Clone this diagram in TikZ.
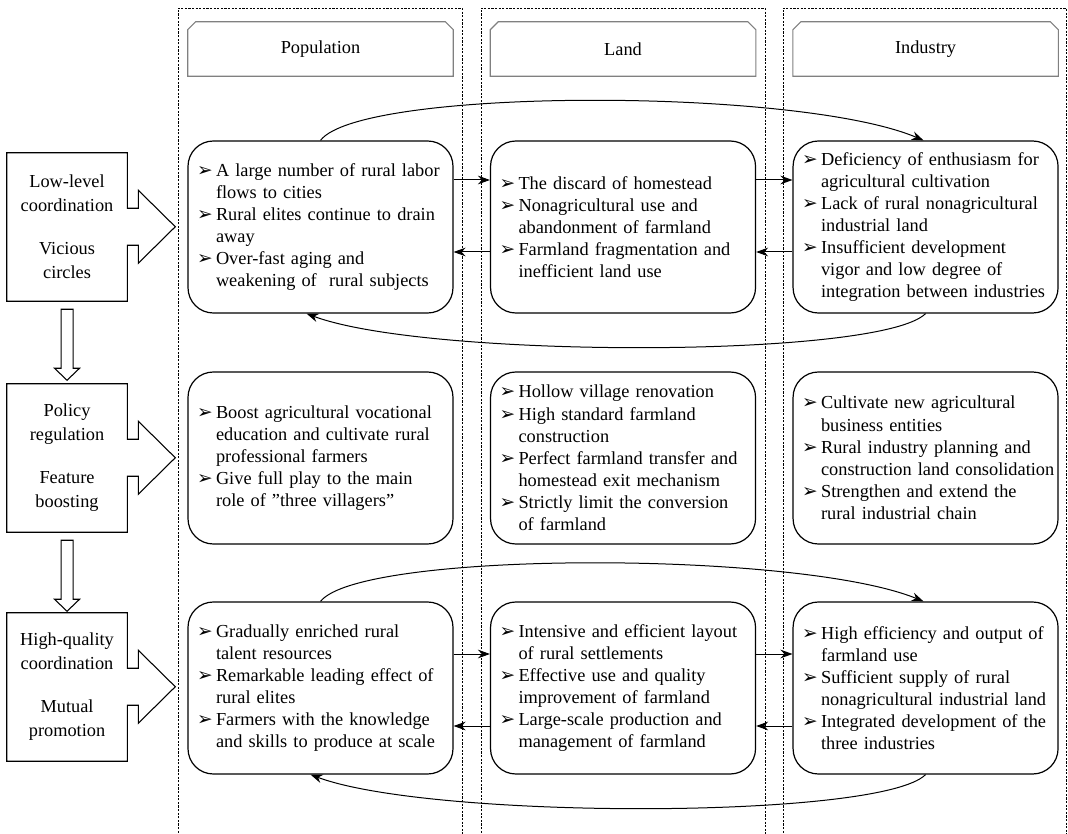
\documentclass[tikz,border=0pt]{standalone}
\usepackage{fontspec}
\setmainfont{Liberation Serif}
\newfontfamily\dejavu{DejaVu Sans}
\usepackage{xcolor}
\usepackage{tikz}
\usetikzlibrary{positioning,arrows.meta}
\definecolor{headgray}{HTML}{808080}
\newcommand{\bl}{\hspace*{6.75pt}\makebox[14.25pt][l]{\dejavu\fontsize{14}{14}\selectfont ➢}}
\newcommand{\ind}{\hspace*{21pt}}

\begin{document}
\begin{tikzpicture}[
        x=0.75pt, y=-0.75pt,
        node distance=226.9pt,
        every node/.style={
            font=\fontsize{13.75}{16.6}\selectfont
        },
        cell/.style={
            rectangle,
            draw,
            line width=0.9pt,
            rounded corners=19pt,
            minimum width=198.75pt,
            minimum height=129pt,
            text width=198.75pt,
            inner xsep=0pt,
            align=left
        },
        head/.style={
            minimum width=198.75pt,
            minimum height=40.5pt
        },
        stage/.style={
            minimum width=90pt,
            minimum height=111pt,
            align=center,
            font=\fontsize{13.75}{18}\selectfont
        },
        headline/.style={draw=headgray, line width=0.8pt},
        colframe/.style={line width=0.6pt, dash pattern=on 1.6pt off 1.1pt},
        arrow/.style={
            -{Stealth[length=9pt,width=6.5pt]},
            line width=0.75pt
        },
        blockarrow/.style={line width=0.8pt}
    ]
        \useasboundingbox (0,0) rectangle (1068,834);

        % columns
        \foreach \xa/\xb in {178/462, 481/765, 783/1066}
            \draw[colframe] (\xa,840) -- (\xa,8) -- (\xb,8) -- (\xb,840);

        % row 1
        \node[cell] (pop1) at (320.5,227) {\bl A large number of rural labor\\ \ind flows to cities\\ \bl Rural elites continue to drain\\ \ind away\\ \bl Over-fast aging and\\ \ind weakening of~ rural subjects};
        \node[cell, right of=pop1] (land1) {\bl The discard of homestead\\ \bl Nonagricultural use and\\ \ind abandonment of farmland\\ \bl Farmland fragmentation and\\ \ind inefficient land use};
        \node[cell, right of=land1] (ind1) {\bl Deficiency of enthusiasm for\\ \ind agricultural cultivation\\ \bl Lack of rural nonagricultural\\ \ind industrial land\\ \bl Insufficient development\\ \ind vigor and low degree of\\ \ind integration between industries};

        % row 2
        \node[cell, below of=pop1, node distance=173.25pt] (pop2) {\bl Boost agricultural vocational\\ \ind education and cultivate rural\\ \ind professional farmers\\ \bl Give full play to the main\\ \ind role of ”three villagers”};
        \node[cell, right of=pop2] (land2) {\bl Hollow village renovation\\ \bl High standard farmland\\ \ind construction\\ \bl Perfect farmland transfer and\\ \ind homestead exit mechanism\\ \bl Strictly limit the conversion\\ \ind of farmland};
        \node[cell, right of=land2] (ind2) {\bl Cultivate new agricultural\\ \ind business entities\\ \bl Rural industry planning and\\ \ind construction land consolidation\\ \bl Strengthen and extend the\\ \ind rural industrial chain};

        % row 3
        \node[cell, below of=pop2, node distance=172.5pt] (pop3) {\bl Gradually enriched rural\\ \ind talent resources\\ \bl Remarkable leading effect of\\ \ind rural elites\\ \bl Farmers with the knowledge\\ \ind and skills to produce at scale};
        \node[cell, right of=pop3] (land3) {\bl Intensive and efficient layout\\ \ind of rural settlements\\ \bl Effective use and quality\\ \ind improvement of farmland\\ \bl Large-scale production and\\ \ind management of farmland};
        \node[cell, right of=land3] (ind3) {\bl High efficiency and output of\\ \ind farmland use\\ \bl Sufficient supply of rural\\ \ind nonagricultural industrial land\\ \bl Integrated development of the\\ \ind three industries};

        % headers
        \node[head, above of=pop1, node distance=133.5pt] (hpop) {Population};
        \node[head, above of=land1, node distance=133.5pt] (hland) {Land};
        \node[head, above of=ind1, node distance=133.5pt] (hind) {Industry};
        \foreach \n in {hpop,hland,hind}
            \draw[headline] (\n.south west) -- ([yshift=-6pt]\n.north west) -- ([xshift=6pt]\n.north west)
                -- ([xshift=-6pt]\n.north east) -- ([yshift=-6pt]\n.north east) -- (\n.south east) -- cycle;

        % stages
        \node[stage, left of=pop1, node distance=190.1pt] (lvl1) {Low-level\\coordination\\[14.25pt]Vicious\\circles};
        \node[stage, left of=pop2, node distance=190.1pt] (lvl2) {Policy\\regulation\\[14.25pt]Feature\\boosting};
        \node[stage, left of=pop3, node distance=190.1pt, yshift=0.75pt] (lvl3) {High-quality\\coordination\\[14.25pt]Mutual\\promotion};
        \foreach \n in {lvl1,lvl2,lvl3}
            \draw[blockarrow] (\n.north west) -- (\n.north east) -- ++(0,55.5) -- ++(11,0) -- ++(0,-18)
                -- ++(37,36.5) -- ++(-37,36.5) -- ++(0,-18) -- ++(-11,0) -- (\n.south east) -- (\n.south west) -- cycle;
        \foreach \n in {lvl1,lvl2}
            \draw[blockarrow] ([yshift=-6pt]\n.south) -- ++(-6,0) -- ++(0,59) -- ++(-6.5,0) -- ++(12.5,12)
                -- ++(12.5,-12) -- ++(-6.5,0) -- ++(0,-59) -- cycle;

        % row 1 links
        \draw[arrow] ([yshift=35.25pt]pop1.east) -- ([yshift=35.25pt]land1.west);
        \draw[arrow] ([yshift=-18.75pt]land1.west) -- ([yshift=-18.75pt]pop1.east);
        \draw[arrow] ([yshift=35.25pt]land1.east) -- ([yshift=35.25pt]ind1.west);
        \draw[arrow] ([yshift=-18.75pt]ind1.west) -- ([yshift=-18.75pt]land1.east);
        \draw[arrow] (pop1.north) .. controls +(40,-53) and +(-125,-53) .. ([xshift=-1.5pt]ind1.north);
        \draw[arrow] (ind1.south) .. controls +(-45,45) and +(120,45) .. ([xshift=-10.5pt]pop1.south);

        % row 3 links
        \draw[arrow] ([yshift=25.5pt]pop3.east) -- ([yshift=25.5pt]land3.west);
        \draw[arrow] ([yshift=-28.5pt]land3.west) -- ([yshift=-28.5pt]pop3.east);
        \draw[arrow] ([yshift=25.5pt]land3.east) -- ([yshift=25.5pt]ind3.west);
        \draw[arrow] ([yshift=-28.5pt]ind3.west) -- ([yshift=-28.5pt]land3.east);
        \draw[arrow] (pop3.north) .. controls +(40,-51) and +(-125,-51) .. ([xshift=-1.5pt]ind3.north);
        \draw[arrow] (ind3.south) .. controls +(-45,45) and +(120,45) .. ([xshift=-7.5pt]pop3.south);
    \end{tikzpicture}
\end{document}
